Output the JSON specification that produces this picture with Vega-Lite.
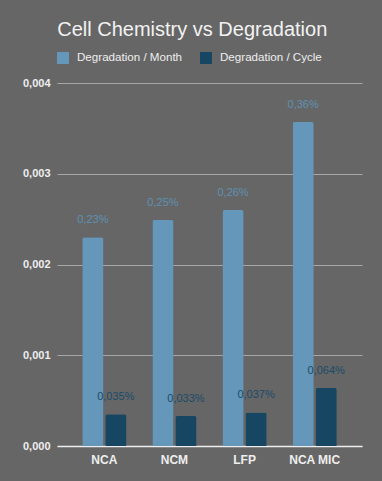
{
  "$schema": "https://vega.github.io/schema/vega-lite/v6.json",
  "width": 305,
  "height": 363,
  "autosize": {"type": "none"},
  "padding": {"left": 57, "top": 83, "right": 20, "bottom": 35},
  "background": "#666666",
  "config": {
    "locale": {"number": {"decimal": ",", "thousands": ".", "grouping": [3], "currency": ["", " €"]}},
    "view": {"stroke": null},
    "font": "Liberation Sans"
  },
  "title": {"text": "Cell Chemistry vs Degradation", "fontSize": 20, "fontWeight": "normal", "color": "#f2f2f2", "anchor": "middle", "frame": "bounds", "offset": 12},
  "data": {
    "values": [
      {"chem": "NCA", "series": "Degradation / Month", "value": 0.0023},
      {"chem": "NCA", "series": "Degradation / Cycle", "value": 0.00035},
      {"chem": "NCM", "series": "Degradation / Month", "value": 0.00249},
      {"chem": "NCM", "series": "Degradation / Cycle", "value": 0.00033},
      {"chem": "LFP", "series": "Degradation / Month", "value": 0.0026},
      {"chem": "LFP", "series": "Degradation / Cycle", "value": 0.00037},
      {"chem": "NCA MIC", "series": "Degradation / Month", "value": 0.00357},
      {"chem": "NCA MIC", "series": "Degradation / Cycle", "value": 0.00064}
    ]
  },
  "encoding": {
    "x": {
      "field": "chem", "type": "nominal", "sort": ["NCA", "NCM", "LFP", "NCA MIC"],
      "scale": {"paddingInner": 0.37, "paddingOuter": 0.36},
      "axis": {"title": null, "labelAngle": 0, "labelFontWeight": "bold", "labelFontSize": 12, "labelColor": "#eeeeee", "labelPadding": 8, "ticks": false, "domainColor": "#eeeeee", "domainWidth": 1.5, "grid": false}
    },
    "xOffset": {"field": "series", "type": "nominal", "sort": ["Degradation / Month", "Degradation / Cycle"], "scale": {"paddingInner": 0.08}},
    "y": {
      "field": "value", "type": "quantitative",
      "scale": {"domain": [0, 0.004]},
      "axis": {"title": null, "values": [0, 0.001, 0.002, 0.003, 0.004], "format": ".3f", "labelFontWeight": "bold", "labelFontSize": 11, "labelColor": "#eeeeee", "labelPadding": 7, "ticks": false, "domain": false, "gridColor": "#a6a6a6", "gridWidth": 1}
    }
  },
  "layer": [
    {
      "mark": {"type": "bar", "cornerRadiusTopLeft": 2, "cornerRadiusTopRight": 2},
      "encoding": {
        "color": {
          "field": "series", "type": "nominal",
          "scale": {"domain": ["Degradation / Month", "Degradation / Cycle"], "range": ["#6497b9", "#174663"]},
          "legend": {"title": null, "orient": "top", "direction": "horizontal", "symbolType": "square", "symbolSize": 144, "symbolStrokeWidth": 0, "labelFontSize": 11.6, "labelColor": "#eeeeee", "labelOffset": 8, "columnPadding": 17, "offset": 19, "padding": 0}
        }
      }
    },
    {
      "transform": [{"filter": "datum.series == 'Degradation / Month'"}],
      "mark": {"type": "text", "baseline": "bottom", "dy": -12, "fontSize": 11, "color": "#5f91b3"},
      "encoding": {"text": {"field": "value", "type": "quantitative", "format": ".2%"}}
    },
    {
      "transform": [{"filter": "datum.series == 'Degradation / Cycle'"}],
      "mark": {"type": "text", "baseline": "bottom", "dy": -12, "fontSize": 11, "color": "#1b4b6a"},
      "encoding": {"text": {"field": "value", "type": "quantitative", "format": ".3%"}}
    }
  ]
}
